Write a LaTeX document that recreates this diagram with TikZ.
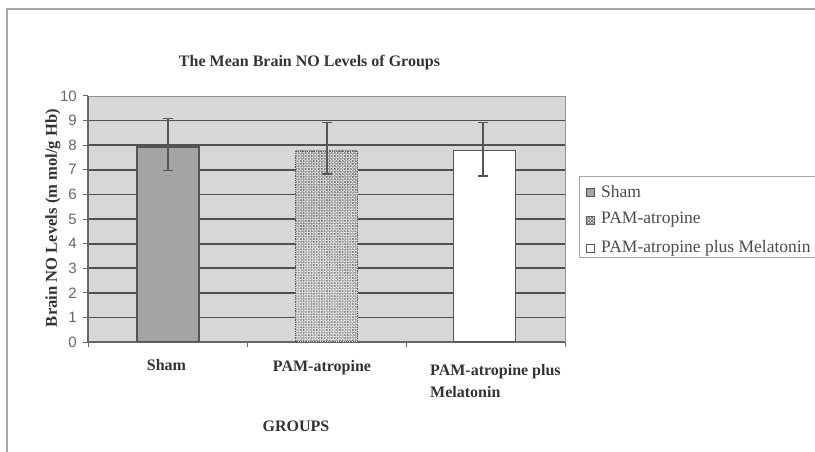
\documentclass[tikz,border=0pt]{standalone}
\usepackage{fontspec}
\setmainfont{Liberation Serif}
\newfontfamily\ticksans{Liberation Sans}
\usetikzlibrary{patterns.meta}

\definecolor{plotbg}{HTML}{D7D7D7}
\definecolor{gridc}{HTML}{505050}
\definecolor{barshade}{HTML}{A4A4A4}
\definecolor{ink}{HTML}{333333}
\definecolor{ticktext}{HTML}{666666}
\definecolor{edgec}{HTML}{555555}
\definecolor{framec}{HTML}{A8A8A8}
\definecolor{hatchc}{HTML}{6E6E6E}

\begin{document}
\begin{tikzpicture}[x=1pt,y=-1pt,
  outerframe/.style={draw=framec,line width=1.6pt},
  plotarea/.style={fill=plotbg,draw=gray!85,line width=0.8pt},
  gridline/.style={draw=gridc,line width=1.8pt},
  axisline/.style={draw=gray!80!black,line width=1.2pt},
  tickmark/.style={draw=gray!80!black,line width=1pt},
  hatchfill/.style={fill=white,
    postaction={pattern={Lines[angle=45,distance=2.3pt,line width=0.8pt]},pattern color=hatchc},
    postaction={pattern={Lines[angle=-45,distance=2.3pt,line width=0.8pt]},pattern color=hatchc}},
  shambar/.style={draw=edgec,line width=1.2pt,fill=barshade,anchor=south,minimum width=62pt,inner sep=0pt},
  hatchbar/.style={hatchfill,draw=edgec,line width=0.8pt,densely dotted,anchor=south,minimum width=62pt,inner sep=0pt},
  plainbar/.style={draw=edgec,line width=1.2pt,fill=white,anchor=south,minimum width=62pt,inner sep=0pt},
  errbar/.style={draw=edgec,line width=1.1pt},
  ticklabel/.style={font=\ticksans\fontsize{15}{17}\selectfont,text=ticktext,anchor=east,inner sep=0pt},
  boldlabel/.style={font=\bfseries\fontsize{16}{22}\selectfont,text=ink,inner sep=0pt},
  legendtext/.style={font=\fontsize{17.5}{20}\selectfont,text=gray!60!black,anchor=west,inner sep=0pt},
  legendkey/.style={draw=edgec,line width=1pt,minimum size=8pt,inner sep=0pt}]

\useasboundingbox (0,0) rectangle (815,452);

% outer frame (top and left edges)
\draw[outerframe] (7,452) -- (7,9) -- (815,9);

% title
\node[boldlabel] (title) at (309.5,63) {The Mean Brain NO Levels of Groups};

% plot area and horizontal grid
\path[plotarea] (88,96) rectangle (565,342);
\foreach \k in {1,...,9}
  \draw[gridline] (88,{342-24.6*\k}) -- (565,{342-24.6*\k});

% value axis with ticks and labels
\draw[axisline] (88,96) -- (88,342) -- (565,342);
\foreach \k in {0,...,10} {
  \draw[tickmark] (83,{342-24.6*\k}) -- (88,{342-24.6*\k});
  \node[ticklabel] (yl\k) at (77,{342-24.6*\k}) {\k};
}
\foreach \xx in {88,247,406,565}
  \draw[tickmark] (\xx,342) -- (\xx,347);

\node[boldlabel,font=\bfseries\fontsize{16.6}{20}\selectfont,rotate=90] (ytitle) at (53,218) {Brain NO Levels (m mol/g Hb)};

% bars
\node[shambar,minimum height={7.9*24.6}] (sham) at (168,342) {};
\node[hatchbar,minimum height={7.75*24.6}] (pam) at (326.5,342) {};
\node[plainbar,minimum height={7.75*24.6}] (mel) at (484.5,342) {};

% error bars
\coordinate (shamlo) at (168,{342-24.6*6.98});
\coordinate (shamhi) at (168,{342-24.6*9.1});
\coordinate (pamlo) at (327,{342-24.6*6.83});
\coordinate (pamhi) at (327,{342-24.6*8.94});
\coordinate (mello) at (483,{342-24.6*6.75});
\coordinate (melhi) at (483,{342-24.6*8.94});
\foreach \e in {sham,pam,mel} {
  \draw[errbar] (\e lo) -- (\e hi);
  \draw[errbar] ([xshift=-5pt]\e lo) -- ([xshift=5pt]\e lo);
  \draw[errbar] ([xshift=-5pt]\e hi) -- ([xshift=5pt]\e hi);
}

% category labels
\node[boldlabel] (c1) at (166.5,365) {Sham};
\node[boldlabel] (c2) at (322,368) {PAM-atropine};
\node[boldlabel,align=left,anchor=west] (c3) at (430,381) {PAM-atropine plus\\Melatonin};
\node[boldlabel] (xtitle) at (296,426) {GROUPS};

% legend
\draw[draw=gray!70,line width=1pt] (815,176) -- (579,176) -- (579,257) -- (815,257);
\node[legendkey,fill=barshade] (k1) at (590.5,192) {};
\node[legendkey,hatchfill] (k2) at (590.5,220) {};
\node[legendkey,fill=white] (k3) at (590.5,248) {};
\node[legendtext] (t1) at (601,192) {Sham};
\node[legendtext] (t2) at (601,220) {PAM-atropine};
\node[legendtext] (t3) at (601,248) {PAM-atropine plus Melatonin};

\end{tikzpicture}
\end{document}
